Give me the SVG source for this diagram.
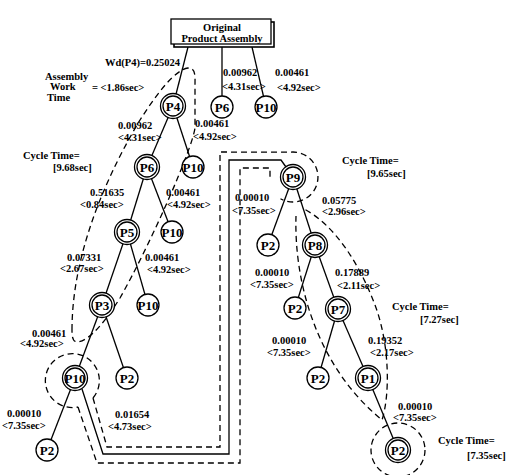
<svg xmlns="http://www.w3.org/2000/svg" width="522" height="475" viewBox="0 0 522 475">
<style>
.e{stroke:#000;stroke-width:1.3;fill:none}
.d{stroke:#000;stroke-width:1.3;fill:none;stroke-dasharray:6 4}
.c{stroke:#000;stroke-width:1.3;fill:#fff}
.t{font-family:"Liberation Serif",serif;font-weight:bold;font-size:10.5px;fill:#000}
.n{font-family:"Liberation Serif",serif;font-weight:bold;font-size:13px;fill:#000;text-anchor:middle}
.m{text-anchor:middle}
</style>
<rect width="522" height="475" fill="#fff"/>
<g id="connectors">
<line class="e" x1="188" y1="47" x2="173" y2="106"/>
<line class="e" x1="222" y1="47" x2="222" y2="107"/>
<line class="e" x1="252" y1="47" x2="266" y2="107"/>
<line class="e" x1="173" y1="106" x2="147" y2="167"/>
<line class="e" x1="173" y1="106" x2="193" y2="167"/>
<line class="e" x1="147" y1="167" x2="127" y2="232"/>
<line class="e" x1="147" y1="167" x2="172" y2="232"/>
<line class="e" x1="127" y1="232" x2="102" y2="305"/>
<line class="e" x1="127" y1="232" x2="148" y2="305"/>
<line class="e" x1="102" y1="305" x2="75" y2="378"/>
<line class="e" x1="102" y1="305" x2="127" y2="378"/>
<line class="e" x1="75" y1="378" x2="47" y2="450"/>
<polyline class="e" points="82,389 103,454 229,454 229,160 281,160 286,167"/>
<line class="e" x1="293" y1="177" x2="268" y2="245"/>
<line class="e" x1="293" y1="177" x2="315" y2="245"/>
<line class="e" x1="315" y1="245" x2="295" y2="308"/>
<line class="e" x1="315" y1="245" x2="338" y2="309"/>
<line class="e" x1="338" y1="309" x2="318" y2="378"/>
<line class="e" x1="338" y1="309" x2="368" y2="378"/>
<line class="e" x1="368" y1="378" x2="398" y2="450"/>
<path class="d" d="M72 330 C72 250 110 170 140 120 C158 92 175 70 188 68 C196 68 195 76 195 85 L195 128 C192 150 150 245 120 298 C105 322 90 340 78 342 C73 342 72 338 72 330 Z"/>
<path class="d" d="M93 398 A27 27 0 1 0 78 407"/>
<path class="d" d="M93 398 L107 447 L220 447 L220 152 L290 152.2 A25 25 0 1 1 280.5 198.7"/>
<path class="d" d="M78 407 L97 463 L240 463 L240 168 L270 168 L270 180"/>
<path class="d" d="M296 216 C294 280 315 365 382 420 C390 395 390 345 375 305 C360 265 335 225 304 209"/>
<circle class="d" cx="398" cy="450" r="27"/>
</g>
<g id="box">
<rect x="174" y="22" width="100" height="25" fill="#fff" stroke="#000" stroke-width="1.6"/>
<rect x="171" y="19" width="100" height="25" fill="#fff" stroke="#000" stroke-width="1.3"/>
<text class="t m" x="222" y="31">Original</text>
<text class="t m" x="222" y="42">Product Assembly</text>
</g>
<g id="P4"><circle class="c" cx="173" cy="106" r="12.5"/><circle class="c" cx="173" cy="106" r="10"/><text class="n" x="173" y="110.5">P4</text></g>
<g id="P6top"><circle class="c" cx="222" cy="107" r="11"/><text class="n" x="222" y="111.5">P6</text></g>
<g id="P10top"><circle class="c" cx="266" cy="107" r="11"/><text class="n" x="266" y="111.5">P10</text></g>
<g id="P6"><circle class="c" cx="147" cy="167" r="12.5"/><circle class="c" cx="147" cy="167" r="10"/><text class="n" x="147" y="171.5">P6</text></g>
<g id="P10b"><circle class="c" cx="193" cy="167" r="11"/><text class="n" x="193" y="171.5">P10</text></g>
<g id="P5"><circle class="c" cx="127" cy="232" r="12.5"/><circle class="c" cx="127" cy="232" r="10"/><text class="n" x="127" y="236.5">P5</text></g>
<g id="P10c"><circle class="c" cx="172" cy="232" r="11"/><text class="n" x="172" y="236.5">P10</text></g>
<g id="P3"><circle class="c" cx="102" cy="305" r="12.5"/><circle class="c" cx="102" cy="305" r="10"/><text class="n" x="102" y="309.5">P3</text></g>
<g id="P10d"><circle class="c" cx="148" cy="305" r="11"/><text class="n" x="148" y="309.5">P10</text></g>
<g id="P10e"><circle class="c" cx="75" cy="378" r="12.5"/><circle class="c" cx="75" cy="378" r="10"/><text class="n" x="75" y="382.5">P10</text></g>
<g id="P2a"><circle class="c" cx="127" cy="378" r="11"/><text class="n" x="127" y="382.5">P2</text></g>
<g id="P2b"><circle class="c" cx="47" cy="450" r="11"/><text class="n" x="47" y="454.5">P2</text></g>
<g id="P9"><circle class="c" cx="293" cy="177" r="12.5"/><circle class="c" cx="293" cy="177" r="10"/><text class="n" x="293" y="181.5">P9</text></g>
<g id="P2c"><circle class="c" cx="268" cy="245" r="11"/><text class="n" x="268" y="249.5">P2</text></g>
<g id="P8"><circle class="c" cx="315" cy="245" r="12.5"/><circle class="c" cx="315" cy="245" r="10"/><text class="n" x="315" y="249.5">P8</text></g>
<g id="P2d"><circle class="c" cx="295" cy="308" r="11"/><text class="n" x="295" y="312.5">P2</text></g>
<g id="P7"><circle class="c" cx="338" cy="309" r="12.5"/><circle class="c" cx="338" cy="309" r="10"/><text class="n" x="338" y="313.5">P7</text></g>
<g id="P2e"><circle class="c" cx="318" cy="378" r="11"/><text class="n" x="318" y="382.5">P2</text></g>
<g id="P1"><circle class="c" cx="368" cy="378" r="12.5"/><circle class="c" cx="368" cy="378" r="10"/><text class="n" x="368" y="382.5">P1</text></g>
<g id="P2f"><circle class="c" cx="398" cy="450" r="12.5"/><circle class="c" cx="398" cy="450" r="10"/><text class="n" x="398" y="454.5">P2</text></g>
<g id="labels">
<text class="t" x="105" y="65.5">Wd(P4)=0.25024</text>
<text class="t" x="45" y="79.5">Assembly</text>
<text class="t" x="50" y="90">Work</text>
<text class="t" x="47" y="100.5">Time</text>
<text class="t" x="92" y="90.5">= &lt;1.86sec&gt;</text>
<text class="t" x="118" y="128.5">0.00962</text>
<text class="t" x="118" y="140.5">&lt;4.31sec&gt;</text>
<text class="t" x="195" y="126.5">0.00461</text>
<text class="t" x="193" y="139.5">&lt;4.92sec&gt;</text>
<text class="t" x="223" y="75.5">0.00962</text>
<text class="t" x="222" y="89.5">&lt;4.31sec&gt;</text>
<text class="t" x="275" y="75.5">0.00461</text>
<text class="t" x="277" y="90.5">&lt;4.92sec&gt;</text>
<text class="t" x="23" y="158.5">Cycle Time=</text>
<text class="t" x="53" y="170.5">[9.68sec]</text>
<text class="t" x="90" y="195.5">0.51635</text>
<text class="t" x="80" y="207.5">&lt;0.84sec&gt;</text>
<text class="t" x="166" y="195.5">0.00461</text>
<text class="t" x="167" y="207.5">&lt;4.92sec&gt;</text>
<text class="t" x="67" y="260.5">0.07331</text>
<text class="t" x="60" y="271.5">&lt;2.67sec&gt;</text>
<text class="t" x="145" y="260.5">0.00461</text>
<text class="t" x="147" y="272.5">&lt;4.92sec&gt;</text>
<text class="t" x="32" y="336.5">0.00461</text>
<text class="t" x="20" y="346.5">&lt;4.92sec&gt;</text>
<text class="t" x="7" y="416.5">0.00010</text>
<text class="t" x="2" y="428.5">&lt;7.35sec&gt;</text>
<text class="t" x="115" y="417.5">0.01654</text>
<text class="t" x="108" y="429.5">&lt;4.73sec&gt;</text>
<text class="t" x="235" y="200.5">0.00010</text>
<text class="t" x="232" y="213.5">&lt;7.35sec&gt;</text>
<text class="t" x="342" y="163.5">Cycle Time=</text>
<text class="t" x="367" y="176.5">[9.65sec]</text>
<text class="t" x="322" y="203.5">0.05775</text>
<text class="t" x="322" y="214.5">&lt;2.96sec&gt;</text>
<text class="t" x="255" y="275.5">0.00010</text>
<text class="t" x="250" y="287.5">&lt;7.35sec&gt;</text>
<text class="t" x="335" y="275.5">0.17889</text>
<text class="t" x="337" y="288.5">&lt;2.11sec&gt;</text>
<text class="t" x="392" y="309.5">Cycle Time=</text>
<text class="t" x="420" y="322.5">[7.27sec]</text>
<text class="t" x="272" y="343.5">0.00010</text>
<text class="t" x="267" y="355.5">&lt;7.35sec&gt;</text>
<text class="t" x="368" y="343.5">0.19352</text>
<text class="t" x="370" y="355.5">&lt;2.17sec&gt;</text>
<text class="t" x="398" y="410">0.00010</text>
<text class="t" x="393" y="421">&lt;7.35sec&gt;</text>
<text class="t" x="438" y="444">Cycle Time=</text>
<text class="t" x="467" y="459">[7.35sec]</text>
</g>
</svg>
